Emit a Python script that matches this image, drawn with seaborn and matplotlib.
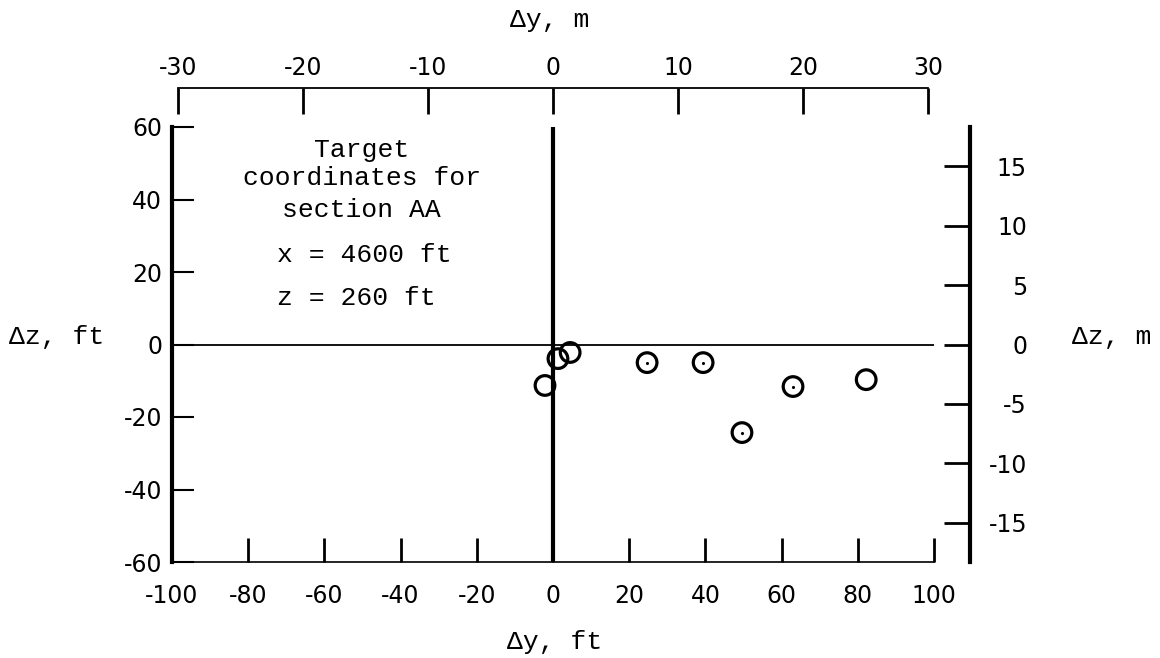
import numpy as np
import pandas as pd
import matplotlib
matplotlib.use('Agg')
import matplotlib.pyplot as plt
import seaborn as sns

# данні: зміщення точок відносно цілі, ft
dy_ft = [-2.1, 1.3, 4.5, 24.7, 39.4, 49.6, 63.0, 82.2]
dz_ft = [-11.3, -3.9, -2.2, -5.0, -5.0, -24.3, -11.6, -9.7]
dotted = [False, False, False, True, True, True, True, False]

ft_ticks_x = [-100, -80, -60, -40, -20, 0, 20, 40, 60, 80, 100]
ft_ticks_z = [-60, -40, -20, 0, 20, 40, 60]
m_ticks_y = [-30, -20, -10, 0, 10, 20, 30]
m_ticks_z = [-15, -10, -5, 0, 5, 10, 15]

note_head = ['Target', 'coordinates for', 'section AA']
note_vals = ['x = 4600 ft', 'z = 260 ft']

FT_PER_M = 3.2808

df = pd.DataFrame({'dy': dy_ft, 'dz': dz_ft, 'dotted': dotted})

sns.set_theme(style='white')
plt.rcParams['font.family'] = ['DejaVu Sans']
plt.rcParams['axes.unicode_minus'] = False
plt.rcParams['text.color'] = 'black'
plt.rcParams['xtick.color'] = 'black'
plt.rcParams['ytick.color'] = 'black'
plt.rcParams['axes.edgecolor'] = 'black'

mono = ['Liberation Mono', 'DejaVu Sans Mono']
W, H = 1160, 658

fig = plt.figure(figsize=(11.6, 6.58), dpi=100)
ax = fig.add_axes([172 / W, 1 - 562 / H, 762 / W, 435 / H])
ax.set_xlim(-100, 100)
ax.set_ylim(-60, 60)

# осі через нуль
ax.axhline(0, color='black', lw=1.3, zorder=1)
ax.axvline(0, color='black', lw=3, zorder=1)

sns.scatterplot(data=df, x='dy', y='dz', ax=ax, marker='o', s=200,
                facecolor='none', edgecolor='black', linewidth=2.3, zorder=3)
sns.scatterplot(data=df[df['dotted']], x='dy', y='dz', ax=ax, marker='o', s=5,
                color='black', edgecolor='black', linewidth=0, zorder=4)

ax.set_xlabel('')
ax.set_ylabel('')
ax.set_xticks(ft_ticks_x)
ax.set_xticklabels([str(v) for v in ft_ticks_x])
ax.set_yticks(ft_ticks_z)
ax.set_yticklabels([str(v) for v in ft_ticks_z])
ax.spines['top'].set_visible(False)
ax.spines['right'].set_visible(False)
ax.spines['left'].set_linewidth(3)
ax.spines['bottom'].set_linewidth(1.2)
ax.tick_params(axis='x', direction='in', length=17, width=2, pad=16, labelsize=17)
ax.tick_params(axis='y', direction='in', length=16, width=1.5, pad=7, labelsize=17)

# верхня вісь в метрах
axt = ax.twiny()
axt.set_xlim(-100 / FT_PER_M, 100 / FT_PER_M)
axt.set_xticks(m_ticks_y)
axt.set_xticklabels([str(v) for v in m_ticks_y])
for side in ['left', 'right', 'bottom']:
    axt.spines[side].set_visible(False)
axt.spines['top'].set_position(('outward', 28))
axt.spines['top'].set_bounds(-30, 30)
axt.spines['top'].set_linewidth(1.3)
axt.tick_params(axis='x', direction='in', length=19, width=2, pad=6, labelsize=17)
axt.patch.set_visible(False)

# права вісь в метрах
axr = ax.twinx()
axr.set_ylim(-60 / FT_PER_M, 60 / FT_PER_M)
axr.set_yticks(m_ticks_z)
axr.set_yticklabels([str(v) for v in m_ticks_z])
for side in ['left', 'top', 'bottom']:
    axr.spines[side].set_visible(False)
axr.spines['right'].set_position(('outward', 26))
axr.spines['right'].set_linewidth(3)
axr.tick_params(axis='y', direction='in', length=19, width=2, pad=41, labelsize=17)
for lab in axr.get_yticklabels():
    lab.set_horizontalalignment('right')
axr.patch.set_visible(False)

# підписи осей
fig.text(57 / W, 1 - 337 / H, 'Δz, ft', family=mono, size=19, ha='center', va='center')
fig.text(1112 / W, 1 - 337 / H, 'Δz, m', family=mono, size=19, ha='center', va='center')
fig.text(555 / W, 1 - 642 / H, 'Δy, ft', family=mono, size=19, ha='center', va='center')
fig.text(550 / W, 1 - 20 / H, 'Δy, m', family=mono, size=19, ha='center', va='center')

# примітка
for line, yy in zip(note_head, [0.947, 0.883, 0.809]):
    ax.text(0.249, yy, line, transform=ax.transAxes, family=mono, size=19,
            ha='center', va='center')
for line, yy in zip(note_vals, [0.706, 0.607]):
    ax.text(0.138, yy, line, transform=ax.transAxes, family=mono, size=19,
            ha='left', va='center')

fig.savefig('out.png', dpi=100, facecolor='white')
